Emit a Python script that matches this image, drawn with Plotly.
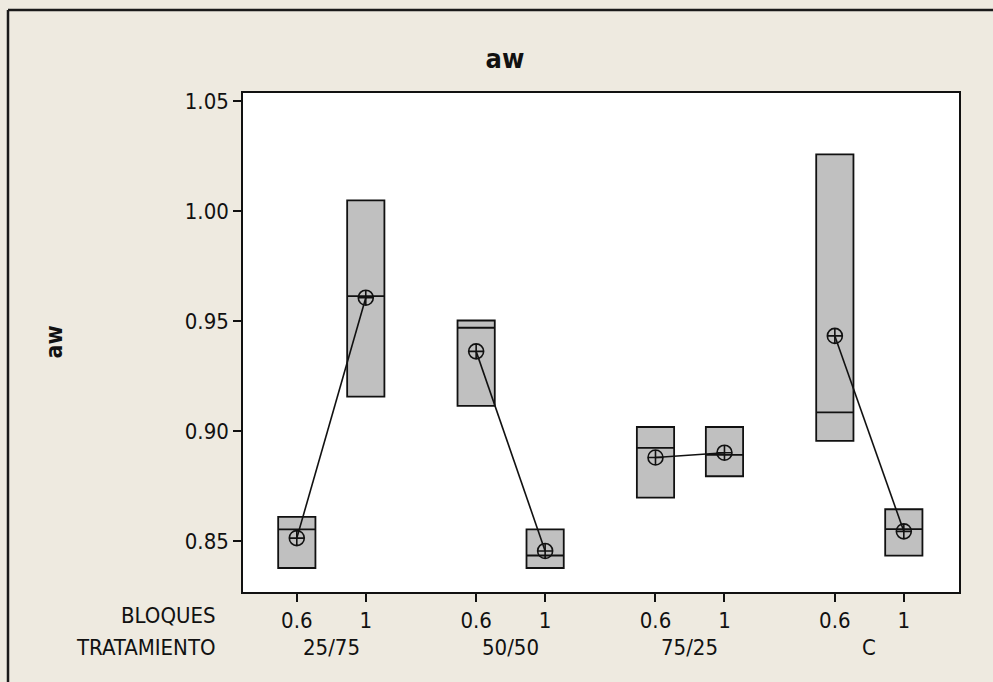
import numpy as np
import plotly.graph_objects as go

# ---- data ----
tratamientos = ["25/75", "50/50", "75/25", "C"]
bloques = ["0.6", "1"]
y_ticks = [0.85, 0.90, 0.95, 1.00, 1.05]

aw_25_75_06 = [0.8377, 0.8553, 0.8609]
aw_25_75_1 = [0.9156, 0.9613, 1.0048]
aw_50_50_06 = [0.9114, 0.9469, 0.9502]
aw_50_50_1 = [0.8377, 0.8434, 0.8553]
aw_75_25_06 = [0.8697, 0.8923, 0.9018]
aw_75_25_1 = [0.8794, 0.8891, 0.9018]
aw_C_06 = [0.8955, 0.9084, 1.0257]
aw_C_1 = [0.8433, 0.8554, 0.8644]

cells = [
    [aw_25_75_06, aw_25_75_1],
    [aw_50_50_06, aw_50_50_1],
    [aw_75_25_06, aw_75_25_1],
    [aw_C_06, aw_C_1],
]

GROUP_STEP = 2.6
FONT = "DejaVu Sans Condensed, DejaVu Sans, Liberation Sans, sans-serif"
INK = "#111111"
FS = 22

xs, ys, pos, labels, means = [], [], [], [], []
for gi, grp in enumerate(cells):
    for bi, vals in enumerate(grp):
        p = gi * GROUP_STEP + bi
        pos.append(p)
        labels.append(bloques[bi])
        means.append(float(np.mean(vals)))
        xs += [p] * len(vals)
        ys += list(vals)

fig = go.Figure()
fig.add_trace(go.Box(
    x=xs, y=ys,
    quartilemethod="exclusive",
    boxpoints=False,
    width=0.54,
    fillcolor="#c0c0c0",
    line=dict(color=INK, width=1.8),
    whiskerwidth=0,
    showlegend=False,
    hoverinfo="skip",
))
# mean connect lines per group
for gi in range(len(cells)):
    fig.add_trace(go.Scatter(
        x=pos[gi * 2: gi * 2 + 2], y=means[gi * 2: gi * 2 + 2],
        mode="lines+markers",
        line=dict(color=INK, width=1.6),
        marker=dict(symbol="circle-cross-open", size=15, color=INK,
                    line=dict(width=1.6, color=INK)),
        showlegend=False,
    ))

W, H = 993, 682
L, R, T, B = 243, 959, 93, 592
pw, ph = R - L, B - T

def px_x(px):
    return (px - L) / pw

def px_y(py):
    return (B - py) / ph

annotations = []
for gi, name in enumerate(tratamientos):
    annotations.append(dict(
        x=gi * GROUP_STEP + 0.5, y=0, xref="x", yref="paper",
        text=name, showarrow=False, yanchor="middle", yshift=-55,
        font=dict(size=FS, color=INK, family=FONT),
    ))
annotations += [
    dict(x=0, y=0, xref="paper", yref="paper", text="BLOQUES", showarrow=False,
         xanchor="right", yanchor="middle", xshift=-25, yshift=-23,
         font=dict(size=FS, color=INK, family=FONT)),
    dict(x=0, y=0, xref="paper", yref="paper", text="TRATAMIENTO", showarrow=False,
         xanchor="right", yanchor="middle", xshift=-25, yshift=-55,
         font=dict(size=FS, color=INK, family=FONT)),
    dict(x=0, y=0.5, xref="paper", yref="paper", text="<b>aw</b>", showarrow=False,
         textangle=-90, xanchor="center", yanchor="middle", xshift=-190,
         font=dict(size=23, color=INK, family=FONT)),
]

shapes = [
    dict(type="line", xref="paper", yref="paper",
         x0=px_x(8), x1=px_x(1000), y0=px_y(10), y1=px_y(10),
         line=dict(color="#1a1a1a", width=2.5)),
    dict(type="line", xref="paper", yref="paper",
         x0=px_x(8), x1=px_x(8), y0=px_y(10), y1=px_y(700),
         line=dict(color="#1a1a1a", width=2.5)),
]

fig.update_layout(
    width=W, height=H,
    margin=dict(l=L, r=W - R, t=T, b=H - B),
    paper_bgcolor="#EEEAE0",
    plot_bgcolor="white",
    font=dict(family=FONT, size=FS, color=INK),
    title=dict(text="<b>aw</b>", x=505 / W, y=1 - 59 / H, xref="container",
               yref="container", xanchor="center", yanchor="middle",
               font=dict(size=27, color=INK, family=FONT)),
    xaxis=dict(
        range=[-0.78, 9.6],
        tickmode="array", tickvals=pos, ticktext=labels,
        ticks="outside", ticklen=8, tickwidth=1.5, tickcolor=INK,
        showgrid=False, zeroline=False,
        showline=True, linecolor=INK, linewidth=1.5, mirror=True,
        tickfont=dict(size=FS, color=INK, family=FONT),
    ),
    yaxis=dict(
        range=[0.8268, 1.0536],
        tickmode="array", tickvals=y_ticks,
        ticktext=[f"{v:.2f}" for v in y_ticks],
        ticks="outside", ticklen=8, tickwidth=1.5, tickcolor=INK,
        showgrid=False, zeroline=False,
        showline=True, linecolor=INK, linewidth=1.5, mirror=True,
        tickfont=dict(size=FS, color=INK, family=FONT),
    ),
    annotations=annotations,
    shapes=shapes,
)

fig.write_html(
    "out.html",
    config={"displayModeBar": False},
    post_script="document.body.style.margin='0';document.body.style.overflow='hidden';",
)
